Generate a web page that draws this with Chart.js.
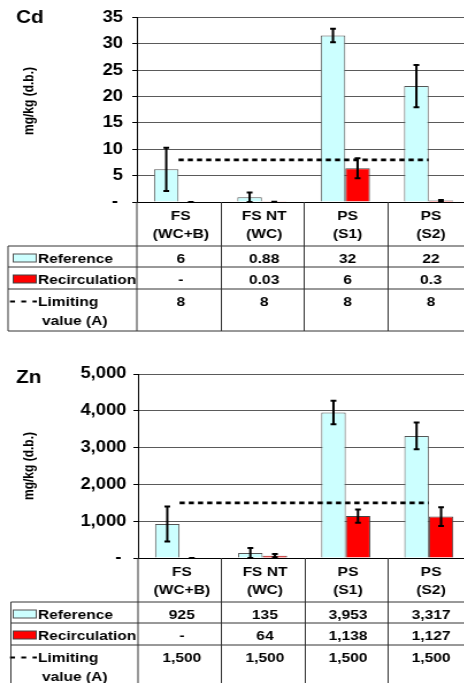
<!DOCTYPE html>
<html>
<head>
<meta charset="utf-8">
<script src="https://cdn.jsdelivr.net/npm/chart.js@4"></script>
<style>
html, body { margin: 0; padding: 0; background: #fff; overflow: hidden; width: 464px; height: 683px; }
/* the source picture is stretched sideways, so the panels are too */
.panel { position: absolute; left: 0; transform: scaleX(1.15); transform-origin: 0 0; }
</style>
</head>
<body>
<div class="panel" style="top:0"><canvas id="cdChart" width="411" height="340"></canvas></div>
<div class="panel" style="top:340px"><canvas id="znChart" width="411" height="343"></canvas></div>
<script>
const FONT = '"Liberation Sans", Arial, sans-serif';

const categories = [['FS', '(WC+B)'], ['FS NT', '(WC)'], ['PS', '(S1)'], ['PS', '(S2)']];
const rowNames = ['Reference', 'Recirculation', 'Limiting', 'value (A)'];

// Cd, mg/kg
const cdReference = [6.2, 0.9, 31.6, 22];
const cdReferenceErr = [4.1, 0.9, 1.3, 4];
const cdRecirculation = [0, 0.03, 6.4, 0.3];
const cdRecirculationErr = [0, 0.02, 1.9, 0.1];
const cdLimit = [8, 8, 8, 8];
const cdRefText = ['6', '0.88', '32', '22'];
const cdRecText = ['-', '0.03', '6', '0.3'];
const cdLimText = ['8', '8', '8', '8'];

// Zn, mg/kg
const znReference = [925, 135, 3953, 3317];
const znReferenceErr = [475, 135, 320, 365];
const znRecirculation = [0, 64, 1138, 1127];
const znRecirculationErr = [0, 45, 180, 255];
const znLimit = [1500, 1500, 1500, 1500];
const znRefText = ['925', '135', '3,953', '3,317'];
const znRecText = ['-', '64', '1,138', '1,127'];
const znLimText = ['1,500', '1,500', '1,500', '1,500'];

const errorBars = {
  id: 'errorBars',
  afterDatasetsDraw(chart) {
    const ctx = chart.ctx, y = chart.scales.y;
    ctx.save();
    ctx.strokeStyle = '#000';
    ctx.lineWidth = 2;
    chart.data.datasets.forEach((ds, di) => {
      if (!ds.err) return;
      chart.getDatasetMeta(di).data.forEach((bar, i) => {
        const v = ds.data[i], e = ds.err[i];
        const top = y.getPixelForValue(v + e);
        const bot = y.getPixelForValue(Math.max(v - e, 0));
        ctx.beginPath();
        ctx.moveTo(bar.x, top); ctx.lineTo(bar.x, bot);
        ctx.moveTo(bar.x - 2.5, top); ctx.lineTo(bar.x + 2.5, top);
        ctx.moveTo(bar.x - 2.5, bot); ctx.lineTo(bar.x + 2.5, bot);
        ctx.stroke();
      });
    });
    ctx.restore();
  }
};

function tablePlugin(cfg) {
  return {
    id: 'dataTable',
    afterDraw(chart) {
      const ctx = chart.ctx, xs = chart.scales.x, area = chart.chartArea;
      const half = (xs.getPixelForValue(1) - xs.getPixelForValue(0)) / 2;
      const y0 = area.bottom;
      const top = y0 + 44;
      const rows = [21, 22, 42];
      const bottom = top + rows.reduce((a, b) => a + b, 0);
      const right = chart.width;
      const line = (x1, y1, x2, y2) => { ctx.beginPath(); ctx.moveTo(x1, y1); ctx.lineTo(x2, y2); ctx.stroke(); };
      ctx.save();

      // titles
      ctx.fillStyle = '#000';
      ctx.font = `bold 18px ${FONT}`;
      ctx.textAlign = 'left';
      ctx.fillText(cfg.title, 14, cfg.titleY);
      ctx.save();
      ctx.translate(26, cfg.axisTitleY);
      ctx.rotate(-Math.PI / 2);
      ctx.font = `bold 12px ${FONT}`;
      ctx.textAlign = 'center';
      ctx.textBaseline = 'middle';
      ctx.fillText('mg/kg (d.b.)', 0, 0);
      ctx.restore();

      // grid of the table
      ctx.strokeStyle = '#333';
      ctx.lineWidth = 1;
      line(area.left, y0, area.left, bottom);
      for (let i = 1; i < categories.length; i++) {
        const x = Math.round(xs.getPixelForValue(i) - half) + 0.5;
        line(x, y0, x, bottom);
      }
      let y = top;
      line(cfg.tableLeft, y, right, y);
      rows.forEach(h => { y += h; line(cfg.tableLeft, y, right, y); });
      line(cfg.tableLeft, top, cfg.tableLeft, bottom);

      // category labels
      ctx.font = `bold 13.5px ${FONT}`;
      ctx.textAlign = 'center';
      ctx.textBaseline = 'alphabetic';
      categories.forEach((c, i) => {
        const x = xs.getPixelForValue(i) + 2;
        ctx.fillText(c[0], x, y0 + 18);
        ctx.fillText(c[1], x, y0 + 36);
      });

      // row keys and names
      const r1 = top + 17, r2 = top + rows[0] + 17, r3 = top + rows[0] + rows[1] + 17;
      ctx.lineWidth = 1;
      ctx.fillStyle = '#ccffff'; ctx.strokeStyle = '#555';
      ctx.fillRect(11.5, r1 - 9, 20, 8); ctx.strokeRect(11.5, r1 - 9, 20, 8);
      ctx.fillStyle = '#ff0000'; ctx.strokeStyle = '#444';
      ctx.fillRect(11.5, r2 - 9, 20, 8); ctx.strokeRect(11.5, r2 - 9, 20, 8);
      ctx.strokeStyle = '#000'; ctx.lineWidth = 2; ctx.setLineDash([4.3, 5.5]);
      line(8.7, r3 - 4.5, 32, r3 - 4.5);
      ctx.setLineDash([]);
      ctx.fillStyle = '#000';
      ctx.textAlign = 'left';
      ctx.fillText(rowNames[0], 33, r1);
      ctx.fillText(rowNames[1], 33, r2);
      ctx.fillText(rowNames[2], 33, r3);
      ctx.fillText(rowNames[3], 36.5, r3 + 19);

      // values
      ctx.textAlign = 'center';
      categories.forEach((c, i) => {
        const x = xs.getPixelForValue(i) + 2;
        ctx.fillText(cfg.refText[i], x, r1);
        ctx.fillText(cfg.recText[i], x, r2);
        ctx.fillText(cfg.limText[i], x, r3);
      });
      ctx.restore();
    }
  };
}

function makeChart(id, cfg) {
  return new Chart(document.getElementById(id), {
    type: 'bar',
    data: {
      labels: categories.map(c => c.join(' ')),
      datasets: [
        { type: 'line', label: 'Limiting value (A)', data: cfg.limit, borderColor: '#000', borderWidth: 2.8,
          borderDash: [4.5, 3.5], pointRadius: 0, fill: false, order: 0 },
        { label: 'Reference', data: cfg.ref, err: cfg.refErr, backgroundColor: '#ccffff',
          borderColor: '#555', borderWidth: 1, order: 1 },
        { label: 'Recirculation', data: cfg.rec, err: cfg.recErr, backgroundColor: '#ff0000',
          borderColor: '#444', borderWidth: 1, order: 1 }
      ]
    },
    options: {
      responsive: false,
      animation: false,
      devicePixelRatio: 1,
      layout: { padding: { top: cfg.padTop, bottom: cfg.padBottom, left: 0, right: 2 } },
      plugins: { legend: { display: false }, tooltip: { enabled: false } },
      datasets: { bar: { categoryPercentage: 0.59, barPercentage: 1 } },
      scales: {
        x: { display: false, offset: true },
        y: {
          min: 0, max: cfg.max,
          afterFit: s => { s.width = cfg.axisX; },
          ticks: {
            stepSize: cfg.step, padding: cfg.tickPad, color: '#000',
            font: { family: FONT, size: 16, weight: 'bold' },
            callback: v => v === 0 ? '- ' : v.toLocaleString('en-US')
          },
          grid: {
            color: c => c.tick && c.tick.value === 0 ? '#000' : '#5a5a5a',
            tickColor: '#000', tickLength: 4, lineWidth: 1
          },
          border: { color: '#000' }
        }
      }
    },
    plugins: [errorBars, tablePlugin(cfg)]
  });
}

makeChart('cdChart', {
  title: 'Cd', titleY: 23, axisTitleY: 101, tableLeft: 7,
  padTop: 12, padBottom: 138, axisX: 119, tickPad: 8, max: 35, step: 5,
  ref: cdReference, refErr: cdReferenceErr, rec: cdRecirculation, recErr: cdRecirculationErr, limit: cdLimit,
  refText: cdRefText, recText: cdRecText, limText: cdLimText
});

makeChart('znChart', {
  title: 'Zn', titleY: 43, axisTitleY: 126, tableLeft: 9.5,
  padTop: 34, padBottom: 125, axisX: 120, tickPad: 6, max: 5000, step: 1000,
  ref: znReference, refErr: znReferenceErr, rec: znRecirculation, recErr: znRecirculationErr, limit: znLimit,
  refText: znRefText, recText: znRecText, limText: znLimText
});
</script>
</body>
</html>
